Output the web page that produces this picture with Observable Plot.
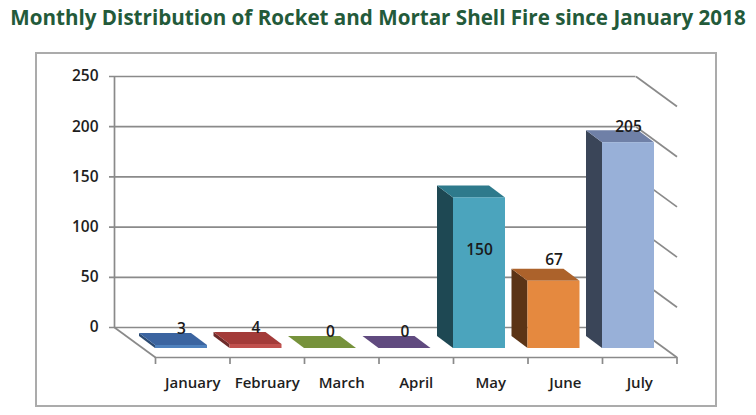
<!DOCTYPE html>
<html><head><meta charset="utf-8">
<script src="https://cdn.jsdelivr.net/npm/d3@7"></script>
<script src="https://cdn.jsdelivr.net/npm/@observablehq/plot@0.6"></script>
<style>
body{margin:0;background:#fff;font-family:"Open Sans",sans-serif;}
#wrap{position:relative;width:756px;height:415px;overflow:hidden;background:#fff;}
#title{position:absolute;left:0;top:3px;width:756px;text-align:center;font-size:20.6px;font-weight:700;color:#235a3a;white-space:nowrap;line-height:28px;}
#box{position:absolute;left:35px;top:52px;width:682px;height:355px;border:2px solid #ababab;box-sizing:border-box;}
#chart{position:absolute;left:0;top:40px;}
</style></head><body>
<div id="wrap">
  <div id="title">Monthly Distribution of Rocket and Mortar Shell Fire since January 2018</div>
  <div id="box"></div>
  <div id="chart"></div>
</div>
<script>
// ---- data ----
const months = ["January", "February", "March", "April", "May", "June", "July"];
const values = [3, 4, 0, 0, 150, 67, 205];
const yTicks = [0, 50, 100, 150, 200, 250];

// ---- styles ----
const frontColors = ["#4f81bd", "#c0504d", "#9bbb59", "#8064a2", "#4ba4bd", "#e5893f", "#98b0d8"];
const sideColors  = ["#2b4a72", "#6e2b2a", "#55692f", "#47385c", "#1e4853", "#5b3416", "#3a4558"];
const topColors   = ["#3b64a0", "#a33b39", "#76923b", "#604a7f", "#2e7a8c", "#ac622b", "#6f80a7"];
const gridColor = "#8a8a8a";

// ---- layout ----
const W = 756, H = 375;
const mL = 155, mR = 79.5, mT = 36, mB = 88;
const UX = (W - mL - mR) / 7;        // px per x unit
const UY = (H - mT - mB) / 250;      // px per y unit
const ux = p => p / UX, uy = p => p / UY;
const WALL = ux(41), FLOOR = uy(30), BASE = uy(21);
const BDX = ux(16), BDY = uy(12), BW = ux(52);
const labelShift = {May: -52, June: 21};

const data = months.map((m, i) => ({m, i, v: values[i]}));

const barMarks = data.flatMap(d => {
  const i = d.i, v = d.v;
  const side = [
    {x: i - BDX, y1: -BASE + BDY, y2: v - BASE + BDY},
    {x: i, y1: -BASE, y2: v - BASE}
  ];
  const top = [
    {y: v - BASE, x1: i, x2: i + BW},
    {y: v - BASE + BDY, x1: i - BDX, x2: i + BW - BDX}
  ];
  return [
    Plot.areaY(side, {x: "x", y1: "y1", y2: "y2", fill: sideColors[i]}),
    Plot.areaX(top, {y: "y", x1: "x1", x2: "x2", fill: topColors[i]}),
    Plot.rect([d], {x1: i, x2: i + BW, y1: -BASE, y2: v - BASE, fill: frontColors[i]})
  ];
});

const chart = Plot.plot({
  width: W, height: H,
  marginLeft: mL, marginRight: mR, marginTop: mT, marginBottom: mB,
  x: {type: "linear", domain: [0, 7]},
  y: {type: "linear", domain: [0, 250]},
  style: {fontFamily: "Open Sans, sans-serif", fontSize: "15px", color: "#1e1e1e", background: "transparent", overflow: "visible"},
  marks: [
    Plot.ruleY(yTicks, {x1: -WALL - ux(5), x2: 7 - WALL, stroke: gridColor, strokeWidth: 1.7}),
    Plot.ruleX([-WALL], {y1: 0, y2: 250, stroke: gridColor, strokeWidth: 1.7}),
    Plot.link(yTicks, {x1: 7 - WALL, y1: d => d, x2: 7, y2: d => d - FLOOR, stroke: gridColor, strokeWidth: 1.7}),
    Plot.link([0], {x1: -WALL, y1: 0, x2: 0, y2: -FLOOR, stroke: gridColor, strokeWidth: 1.7}),
    Plot.ruleY([-FLOOR], {x1: 0, x2: 7, stroke: gridColor, strokeWidth: 1.7}),
    Plot.ruleX(d3.range(8), {y1: -FLOOR, y2: -FLOOR - uy(7), stroke: gridColor, strokeWidth: 1.7}),
    ...barMarks,
    Plot.text(data, {
      x: d => d.i + BW / 2,
      y: d => d.v - BASE + uy(labelShift[d.m] ?? 16),
      text: d => String(d.v),
      fill: "#1a1a1a", fontSize: 15.5, fontWeight: 600
    }),
    Plot.axisY({ticks: yTicks, tickSize: 0, tickPadding: 16, dx: -41, fontSize: 15.5, fontWeight: 600}),
    Plot.axisX({
      ticks: months.map((_, i) => i + 0.5),
      tickFormat: d => months[Math.floor(d)],
      tickSize: 0, tickPadding: 50, fontSize: 15, fontWeight: 600
    })
  ]
});
document.getElementById("chart").appendChild(chart);
</script>
</body></html>
